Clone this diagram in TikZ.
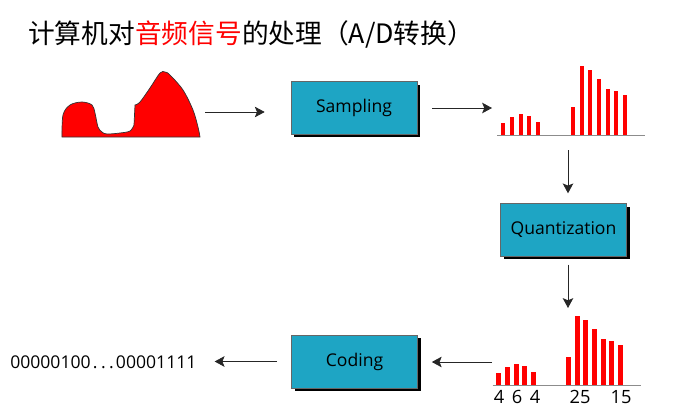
\documentclass[tikz,border=0pt]{standalone}
\usepackage{fontspec}
\newfontfamily\cjk{Noto Sans CJK SC}
\newfontfamily\boxfont{Open Sans}
\usetikzlibrary{arrows.meta,shadows}

\definecolor{boxblue}{RGB}{30,165,196}
\tikzset{
  box/.style={draw=black!60, thin, fill=boxblue, minimum width=3.15cm, minimum height=1.32cm,
    font=\boxfont\fontsize{12.5}{15}\selectfont,
    drop shadow={shadow xshift=0.08cm, shadow yshift=-0.075cm, fill=black, opacity=1}},
  arr/.style={-{Stealth[length=7pt, width=7.5pt, inset=1.5pt]}, line width=0.6pt, black!85},
  bar/.style={fill=red, draw=none},
  axis/.style={draw=black!45, line width=0.7pt},
}

\begin{document}
\begin{tikzpicture}[x=0.025cm, y=-0.025cm]
  \useasboundingbox (0,0) rectangle (691,409);

  % title
  \node [anchor=west, inner sep=0, font=\cjk\fontsize{19}{22}\selectfont] (title) at (28,34)
    {计算机对{\color{red}音频信号}的处理（A/D转换）};

  % analog signal
  \filldraw [fill=red, draw=black!80, line width=0.5pt]
    plot [smooth, tension=0.55] coordinates {(62,137) (63,115) (70,105) (82,102) (92,105) (95,113)
      (98,127) (102,132) (107,134) (120,133) (130,131) (134,125)}
    -- (135,105)
    -- plot [smooth, tension=0.55] coordinates {(135,105) (140,102) (150,88) (160,73) (165,72)
      (170,75) (183,90) (193,110) (198,127) (200,137)}
    -- cycle;
  \coordinate (wave) at (205,112);

  % boxes
  \node [box] (samp) at (354,108) {Sampling};
  \node [box] (quant) at (563.5,230) {Quantization};
  \node [box] (code) at (354.5,361.5) {Coding};

  % sampled signal, before and after quantization
  \foreach \dx/\dy in {0/0, -4.5/250} {
    \draw [axis] (497+\dx,135+\dy) -- (645+\dx,135+\dy);
    \foreach \x/\h in {503/123, 512/117, 521/114, 529/116, 538/122,
                       573/107, 582/66, 590/70, 599/79, 608/89, 616/91, 625/95}
      \fill [bar] (\x-2.3+\dx,135+\dy) rectangle (\x+2.3+\dx,\h+\dy);
  }
  \coordinate (samples) at (492,108);
  \coordinate (samples-out) at (568,150);
  \coordinate (levels) at (568,308);
  \coordinate (levels-out) at (492,362);

  \foreach \x/\t [count=\i] in {499/4, 517/6, 535/4, 580/25, 621/15}
    \node [inner sep=0, font=\boxfont\fontsize{13}{15}\selectfont] (lab\i) at (\x,397) {\t};

  % code word
  \node [anchor=west, inner sep=0, font=\boxfont\fontsize{12.5}{15}\selectfont] (bits) at (10,362)
    {00000100\kern1.5pt.\kern2.5pt.\kern2.5pt.\kern1.5pt00001111};

  % arrows
  \draw [arr, shorten >=0.65cm] (wave) -- (wave -| samp.west);
  \draw [arr, shorten <=0.375cm] (samp.east) -- (samples);
  \draw [arr, shorten >=0.25cm] (samples-out) -- (samples-out |- quant.north);
  \draw [arr, shorten <=0.2cm] (levels |- quant.south) -- (levels);
  \draw [arr, shorten >=0.35cm] (levels-out) -- (levels-out -| code.east);
  \draw [arr, shorten <=0.35cm, shorten >=0.45cm] (code.west) -- (code.west -| bits.east);
\end{tikzpicture}
\end{document}
